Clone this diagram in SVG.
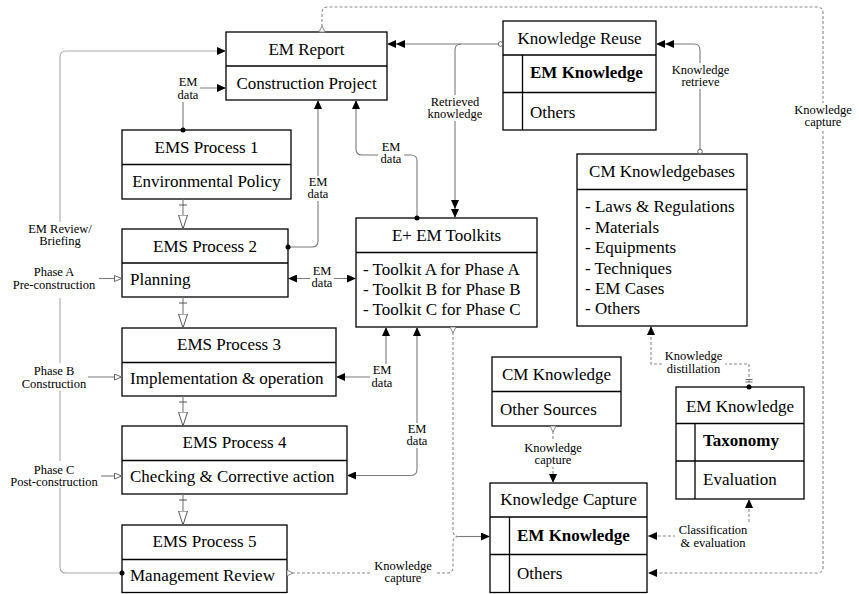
<svg xmlns="http://www.w3.org/2000/svg" width="859" height="594" viewBox="0 0 859 594">
<style>
text{font-family:'Liberation Serif','Times New Roman',Times,'Nimbus Roman','Noto Serif','DejaVu Serif',FreeSerif,serif}
.box{fill:#fff;stroke:#000;stroke-width:1.3}
.div{stroke:#000;stroke-width:1.3;fill:none}
.t{font-size:17px;fill:#000}
.c{text-anchor:middle}
.b{font-weight:bold}
.lbl{font-size:12.5px;fill:#000;text-anchor:middle}
.bg{fill:#fff;stroke:none}
.cn{fill:none;stroke:#7a7a7a;stroke-width:1.1}
.lt{fill:none;stroke:#aaa;stroke-width:1.1}
.ds{fill:none;stroke:#8a8a8a;stroke-width:1.1;stroke-dasharray:3,2}
</style>
<defs>
<marker id="ah" viewBox="0 0 9 8" refX="9" refY="4" markerWidth="9" markerHeight="8" markerUnits="userSpaceOnUse" orient="auto-start-reverse"><path d="M0,0L9,4L0,8z" fill="#000"/></marker>
<marker id="ah2" viewBox="0 0 18 8" refX="18" refY="4" markerWidth="18" markerHeight="8" markerUnits="userSpaceOnUse" orient="auto"><path d="M0,0L9,4L0,8zM9,0L18,4L9,8z" fill="#000"/></marker>
<marker id="tri" viewBox="0 0 15 10" refX="14.5" refY="5" markerWidth="15" markerHeight="10" markerUnits="userSpaceOnUse" orient="auto"><path d="M0.5,0.5L14.5,5L0.5,9.5z" fill="#fff" stroke="#555" stroke-width="1"/></marker>
<marker id="htri" viewBox="0 0 8 7" refX="8" refY="3.5" markerWidth="8" markerHeight="7" markerUnits="userSpaceOnUse" orient="auto"><path d="M0.5,0.5L7.5,3.5L0.5,6.5z" fill="#fff" stroke="#666" stroke-width="1"/></marker>
<marker id="src" viewBox="0 0 7 7" refX="0.5" refY="3.5" markerWidth="7" markerHeight="7" markerUnits="userSpaceOnUse" orient="auto"><path d="M0.5,0.5L6.5,3.5L0.5,6.5z" fill="#fff" stroke="#888" stroke-width="1"/></marker>
<marker id="tick" viewBox="0 0 10 10" refX="0" refY="5" markerWidth="10" markerHeight="10" markerUnits="userSpaceOnUse" orient="auto"><path d="M6,1V9" stroke="#555" stroke-width="1"/></marker>
<marker id="dot" viewBox="-3 -3 6 6" refX="0" refY="0" markerWidth="6" markerHeight="6" markerUnits="userSpaceOnUse" orient="auto"><circle r="2.5" fill="#000"/></marker>
<marker id="ring" viewBox="0 -3 6 6" refX="0.3" refY="0" markerWidth="6" markerHeight="6" markerUnits="userSpaceOnUse" orient="auto"><circle cx="2.8" r="2.3" fill="#fff" stroke="#666" stroke-width="1"/></marker>
<marker id="dtick" viewBox="-3 -5 14 10" refX="0" refY="0" markerWidth="14" markerHeight="10" markerUnits="userSpaceOnUse" orient="auto"><circle r="2.5" fill="#000"/><path d="M5,-3.5V3.5M7.5,-3.5V3.5" stroke="#666" stroke-width="1"/></marker>
</defs>

<g id="em-report">
<rect class="box" x="226" y="32" width="161" height="68"/>
<line class="div" x1="226" y1="66" x2="387" y2="66"/>
<text class="t c" x="306.5" y="55">EM Report</text>
<text class="t c" x="306.5" y="89">Construction Project</text>
</g>
<g id="ems1">
<rect class="box" x="122" y="130" width="169" height="69"/>
<line class="div" x1="122" y1="164.5" x2="291" y2="164.5"/>
<text class="t c" x="206.5" y="153">EMS Process 1</text>
<text class="t c" x="206.5" y="187">Environmental Policy</text>
</g>
<g id="ems2">
<rect class="box" x="122" y="229" width="166" height="68"/>
<line class="div" x1="122" y1="263" x2="288" y2="263"/>
<text class="t c" x="205" y="252">EMS Process 2</text>
<text class="t" x="130" y="285">Planning</text>
</g>
<g id="ems3">
<rect class="box" x="122" y="328" width="214" height="68"/>
<line class="div" x1="122" y1="362.5" x2="336" y2="362.5"/>
<text class="t c" x="229" y="350">EMS Process 3</text>
<text class="t" x="130" y="384">Implementation &amp; operation</text>
</g>
<g id="ems4">
<rect class="box" x="122" y="426" width="225" height="68"/>
<line class="div" x1="122" y1="460.5" x2="347" y2="460.5"/>
<text class="t c" x="234.5" y="448">EMS Process 4</text>
<text class="t" x="130" y="482">Checking &amp; Corrective action</text>
</g>
<g id="ems5">
<rect class="box" x="122" y="525" width="165" height="67.5"/>
<line class="div" x1="122" y1="559.5" x2="287" y2="559.5"/>
<text class="t c" x="204.5" y="547">EMS Process 5</text>
<text class="t" x="130" y="581">Management Review</text>
</g>
<g id="toolkits">
<rect class="box" x="356" y="218" width="181" height="109"/>
<line class="div" x1="356" y1="252.5" x2="537" y2="252.5"/>
<text class="t c" x="446.5" y="241">E+ EM Toolkits</text>
<text class="t" x="363" y="275">- Toolkit A for Phase A</text>
<text class="t" x="363" y="295">- Toolkit B for Phase B</text>
<text class="t" x="363" y="315">- Toolkit C for Phase C</text>
</g>
<g id="knowledge-reuse">
<rect class="box" x="503" y="21" width="153" height="109"/>
<line class="div" x1="503" y1="55" x2="656" y2="55"/>
<line class="div" x1="503" y1="92.5" x2="656" y2="92.5"/>
<line class="div" x1="522.5" y1="55" x2="522.5" y2="130"/>
<text class="t c" x="579.5" y="44">Knowledge Reuse</text>
<text class="t b" x="530" y="78">EM Knowledge</text>
<text class="t" x="530" y="118">Others</text>
</g>
<g id="cm-knowledgebases">
<rect class="box" x="577" y="154" width="170" height="172"/>
<line class="div" x1="577" y1="189.5" x2="747" y2="189.5"/>
<text class="t c" x="662" y="177">CM Knowledgebases</text>
<text class="t" x="585" y="212">- Laws &amp; Regulations</text>
<text class="t" x="585" y="232.5">- Materials</text>
<text class="t" x="585" y="253">- Equipments</text>
<text class="t" x="585" y="273.5">- Techniques</text>
<text class="t" x="585" y="294">- EM Cases</text>
<text class="t" x="585" y="314">- Others</text>
</g>
<g id="cm-knowledge">
<rect class="box" x="492" y="357" width="129" height="69"/>
<line class="div" x1="492" y1="391.5" x2="621" y2="391.5"/>
<text class="t c" x="556.5" y="380">CM Knowledge</text>
<text class="t" x="500" y="415">Other Sources</text>
</g>
<g id="knowledge-capture">
<rect class="box" x="490" y="483" width="157" height="109.5"/>
<line class="div" x1="490" y1="517" x2="647" y2="517"/>
<line class="div" x1="490" y1="554.5" x2="647" y2="554.5"/>
<line class="div" x1="509.5" y1="517" x2="509.5" y2="592.5"/>
<text class="t c" x="568.5" y="505">Knowledge Capture</text>
<text class="t b" x="517" y="541">EM Knowledge</text>
<text class="t" x="517" y="579">Others</text>
</g>
<g id="em-knowledge">
<rect class="box" x="676" y="387" width="128" height="112"/>
<line class="div" x1="676" y1="423.5" x2="804" y2="423.5"/>
<line class="div" x1="676" y1="461" x2="804" y2="461"/>
<line class="div" x1="695" y1="423.5" x2="695" y2="499"/>
<text class="t c" x="740" y="412">EM Knowledge</text>
<text class="t b" x="703" y="446">Taxonomy</text>
<text class="t" x="703" y="485">Evaluation</text>
</g>

<g id="connectors">
<path class="lt" d="M122,573H66Q60,573 60,567V57Q60,51 66,51H226" marker-start="url(#dot)" marker-end="url(#ah)"/>
<path class="cn" d="M183,130V88H226" marker-start="url(#dot)" marker-end="url(#ah)"/>
<path class="cn" d="M288,247H312Q318,247 318,241V100" marker-start="url(#dot)" marker-end="url(#ah)"/>
<path class="cn" d="M417,218V161Q417,155 411,155H362Q356,155 356,149V100" marker-start="url(#dot)" marker-end="url(#ah)"/>
<path class="cn" d="M503,44H387" marker-start="url(#ring)" marker-end="url(#ah2)"/>
<path class="cn" d="M461,44Q455,44 455,50V218" marker-end="url(#ah2)"/>
<path class="cn" d="M700,154V50Q700,44 694,44H656" marker-start="url(#ring)" marker-end="url(#ah2)"/>
<path class="ds" d="M322,32V13Q322,7 328,7H817Q823,7 823,13V567Q823,573 817,573H648" marker-start="url(#src)" marker-end="url(#ah)"/>
<path class="cn" d="M288,278.5H356" marker-start="url(#ah)" marker-end="url(#ah)"/>
<path class="cn" d="M386,327V377H336" marker-start="url(#ah)" marker-end="url(#ah)"/>
<path class="cn" d="M417,327V469Q417,475.5 411,475.5H347" marker-start="url(#ah)" marker-end="url(#ah)"/>
<path class="ds" d="M453,327V530Q453,536.5 459,536.5" marker-start="url(#src)"/>
<path class="ds" d="M287,573H447Q453,573 453,567V542.5Q453,536.5 459,536.5" marker-start="url(#src)"/>
<path class="cn" d="M459,536.5H490" marker-end="url(#ah)"/>
<path class="ds" d="M553,426V483" marker-start="url(#src)" marker-end="url(#ah)"/>
<path class="ds" d="M749,387V364H651V326" marker-start="url(#dtick)" marker-end="url(#ah)"/>
<path class="ds" d="M648,536H749V499" marker-start="url(#ah)" marker-end="url(#ah)"/>
<path class="cn" d="M99,278.5H122" marker-end="url(#htri)"/>
<path class="cn" d="M88,377H122" marker-end="url(#htri)"/>
<path class="cn" d="M101,476H122" marker-end="url(#htri)"/>
<path class="cn" d="M183,199V229" marker-start="url(#tick)" marker-end="url(#tri)"/>
<path class="cn" d="M183,297V328" marker-start="url(#tick)" marker-end="url(#tri)"/>
<path class="cn" d="M183,396V426" marker-start="url(#tick)" marker-end="url(#tri)"/>
<path class="cn" d="M183,494V525" marker-start="url(#tick)" marker-end="url(#tri)"/>
</g>

<g id="labels">
<rect class="bg" x="176" y="76" width="24" height="26"/>
<text class="lbl" x="188" y="86">EM</text><text class="lbl" x="188" y="98.5">data</text>
<rect class="bg" x="306" y="176" width="24" height="25"/>
<text class="lbl" x="318" y="186">EM</text><text class="lbl" x="318" y="198">data</text>
<rect class="bg" x="378" y="141" width="26" height="25"/>
<text class="lbl" x="391" y="151">EM</text><text class="lbl" x="391" y="163">data</text>
<rect class="bg" x="427" y="95" width="56" height="26"/>
<text class="lbl" x="455" y="106">Retrieved</text><text class="lbl" x="455" y="118">knowledge</text>
<rect class="bg" x="668" y="63" width="65" height="26"/>
<text class="lbl" x="700.5" y="74">Knowledge</text><text class="lbl" x="700.5" y="86">retrieve</text>
<rect class="bg" x="790" y="103" width="66" height="26"/>
<text class="lbl" x="823" y="114">Knowledge</text><text class="lbl" x="823" y="126">capture</text>
<rect class="bg" x="310" y="265" width="24" height="25"/>
<text class="lbl" x="322" y="275">EM</text><text class="lbl" x="322" y="287">data</text>
<rect class="bg" x="370" y="364" width="24" height="25"/>
<text class="lbl" x="382" y="374">EM</text><text class="lbl" x="382" y="386.5">data</text>
<rect class="bg" x="405" y="423" width="24" height="25"/>
<text class="lbl" x="417" y="433">EM</text><text class="lbl" x="417" y="445">data</text>
<rect class="bg" x="521" y="441" width="64" height="26"/>
<text class="lbl" x="553" y="452">Knowledge</text><text class="lbl" x="553" y="464">capture</text>
<rect class="bg" x="662" y="350" width="63" height="26"/>
<text class="lbl" x="693.5" y="360">Knowledge</text><text class="lbl" x="693.5" y="372.5">distillation</text>
<rect class="bg" x="675" y="523" width="76" height="26"/>
<text class="lbl" x="713" y="534">Classification</text><text class="lbl" x="713" y="546.5">&amp; evaluation</text>
<rect class="bg" x="371" y="559" width="64" height="26"/>
<text class="lbl" x="403" y="569.5">Knowledge</text><text class="lbl" x="403" y="581.5">capture</text>
<rect class="bg" x="24" y="222" width="72" height="76"/>
<text class="lbl" x="60" y="233">EM Review/</text><text class="lbl" x="60" y="245">Briefing</text>
<rect class="bg" x="6" y="265" width="93" height="28"/>
<text class="lbl" x="54" y="276">Phase A</text><text class="lbl" x="54" y="289">Pre-construction</text>
<rect class="bg" x="18" y="363" width="70" height="28"/>
<text class="lbl" x="54" y="375">Phase B</text><text class="lbl" x="54" y="387.5">Construction</text>
<rect class="bg" x="6" y="461" width="95" height="27"/>
<text class="lbl" x="54" y="473.5">Phase C</text><text class="lbl" x="54" y="486">Post-construction</text>
</g>
</svg>
